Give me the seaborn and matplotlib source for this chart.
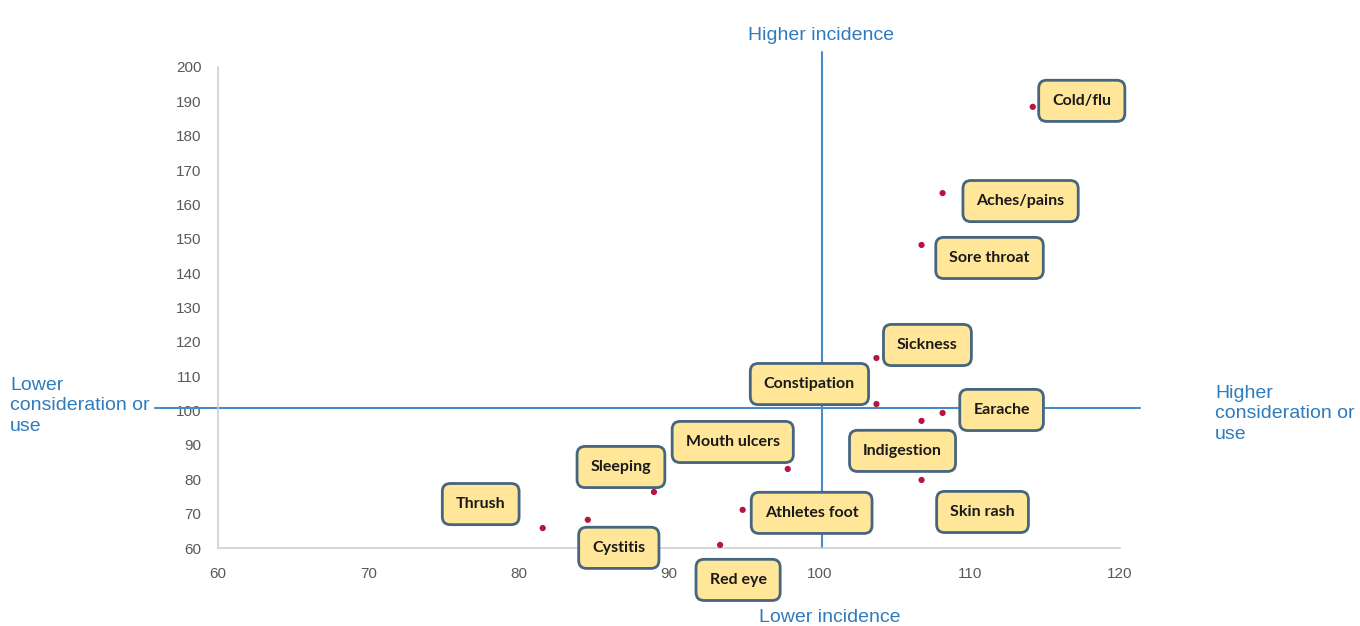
import pandas as pd
import seaborn as sns
import matplotlib.pyplot as plt

conditions = ['Cold/flu', 'Aches/pains', 'Sore throat', 'Sickness', 'Constipation', 'Earache',
              'Indigestion', 'Mouth ulcers', 'Skin rash', 'Sleeping', 'Athletes foot', 'Cystitis',
              'Thrush', 'Red eye']
incidence = [114.2, 108.2, 106.8, 103.8, 103.8, 108.2, 106.8, 97.9, 106.8, 89.0, 94.9, 84.6, 81.6, 93.4]
consideration = [188.4, 163.3, 148.2, 115.3, 101.9, 99.3, 97.0, 83.0, 79.8, 76.3, 71.1, 68.2, 65.8, 60.9]
x_ticks = [60, 70, 80, 90, 100, 110, 120]
y_ticks = list(range(60, 201, 10))

# label box offsets from each point, in pixels
offsets = [(49, 6), (78, -8), (68, -13), (51, 13), (-67, 20), (59, 3), (-19, -30), (-55, 27),
           (61, -32), (-33, 25), (69, -3), (31, -28), (-62, 24), (18, -35)]

df = pd.DataFrame({'condition': conditions, 'incidence': incidence, 'consideration': consideration})

sns.set_style('white')
plt.rcParams['font.family'] = ['Liberation Sans', 'DejaVu Sans']

fig = plt.figure(figsize=(13.6, 6.26), dpi=100)
ax = fig.add_axes([0.1603, 0.1246, 0.6632, 0.7684])

line_col = '#4A8AC6'
ax.plot([100.2, 100.2], [60, 204.4], color=line_col, lw=1.5, clip_on=False, zorder=1)
ax.plot([55.8, 121.3], [100.7, 100.7], color=line_col, lw=1.5, clip_on=False, zorder=1)

sns.scatterplot(data=df, x='incidence', y='consideration', ax=ax, color='#B5163F',
                s=20, edgecolor='none', zorder=3, clip_on=False)

for name, x, y, off in zip(conditions, incidence, consideration, offsets):
    ax.annotate(name, (x, y), xytext=off, textcoords='offset pixels', ha='center', va='center',
                fontsize=11.5, fontweight='bold', family='Lato', color='#1A1A1A', zorder=4,
                annotation_clip=False,
                bbox=dict(boxstyle='round,pad=0.85,rounding_size=0.5', fc='#FFE699', ec='#46657F', lw=2))

ax.set_xlim(60, 120)
ax.set_ylim(60, 200)
ax.set_xticks(x_ticks)
ax.set_yticks(y_ticks)
ax.set_xlabel('')
ax.set_ylabel('')
sns.despine(ax=ax)
for side in ['left', 'bottom']:
    ax.spines[side].set_color('#D0D0D0')
    ax.spines[side].set_linewidth(1.2)
ax.tick_params(axis='both', length=0, labelsize=11, labelcolor='#595959')
ax.tick_params(axis='x', pad=14)
ax.tick_params(axis='y', pad=12)

q_col = '#2E7BBE'
fig.text(821 / 1360, 1 - 35 / 626, 'Higher incidence', ha='center', va='center', fontsize=14, color=q_col)
fig.text(830 / 1360, 1 - 617 / 626, 'Lower incidence', ha='center', va='center', fontsize=14, color=q_col)
fig.text(10 / 1360, 1 - 406 / 626, 'Lower\nconsideration or\nuse', ha='left', va='center',
         fontsize=14, color=q_col, linespacing=1.3)
fig.text(1215 / 1360, 1 - 414 / 626, 'Higher\nconsideration or\nuse', ha='left', va='center',
         fontsize=14, color=q_col, linespacing=1.3)

fig.savefig('out.png', dpi=100, facecolor='white')
